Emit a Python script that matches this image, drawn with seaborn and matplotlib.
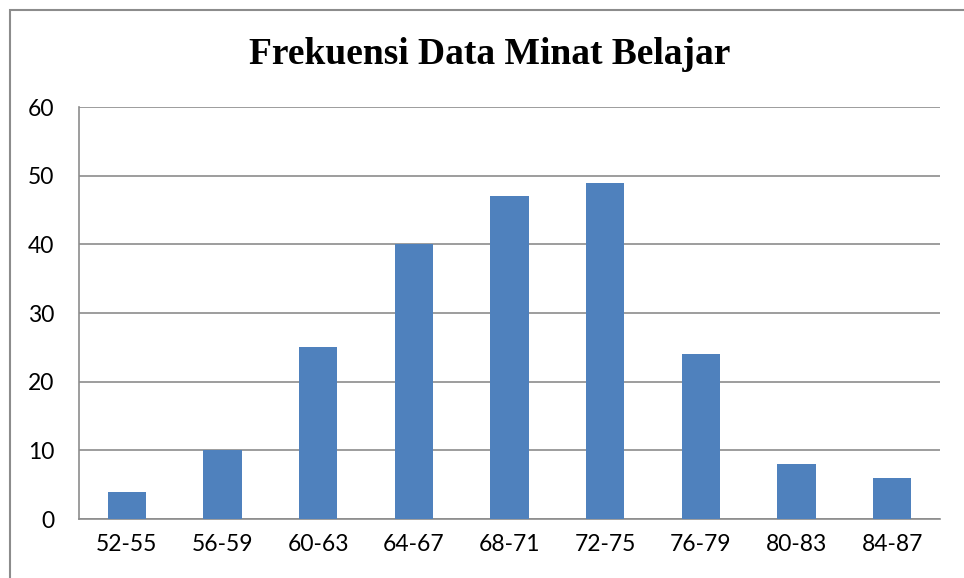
import matplotlib
matplotlib.use("Agg")
import matplotlib.pyplot as plt
import seaborn as sns
import pandas as pd
from matplotlib.patches import Rectangle

# data
kelas = ["52-55", "56-59", "60-63", "64-67", "68-71", "72-75", "76-79", "80-83", "84-87"]
frekuensi = [4, 10, 25, 40, 47, 49, 24, 8, 6]
y_ticks = [0, 10, 20, 30, 40, 50, 60]

df = pd.DataFrame({"kelas": kelas, "frekuensi": frekuensi})

sns.set_style("white")
plt.rcParams["font.family"] = ["Lato", "DejaVu Sans"]
plt.rcParams["text.color"] = "black"
plt.rcParams["xtick.color"] = "black"
plt.rcParams["ytick.color"] = "black"

fig = plt.figure(figsize=(9.64, 5.78), dpi=100)
ax = fig.add_axes([79 / 964, 1 - 519 / 578, (940 - 79) / 964, (519 - 107) / 578])

sns.barplot(data=df, x="kelas", y="frekuensi", color="#4F81BD", saturation=1,
            width=0.4, ax=ax, zorder=3, edgecolor="#4F81BD", linewidth=0)

ax.set_ylim(0, 60)
ax.set_yticks(y_ticks)
ax.set_xlim(-0.5, len(kelas) - 0.5)
ax.yaxis.grid(True, color="#8c8c8c", linewidth=1.2, zorder=0)
ax.set_axisbelow(True)
ax.set_xlabel("")
ax.set_ylabel("")
ax.tick_params(axis="y", length=0, pad=18, labelsize=16.5, labelcolor="black")
ax.tick_params(axis="x", length=0, pad=11, labelsize=16.5, labelcolor="black")
for s in ["top", "right"]:
    ax.spines[s].set_visible(False)
for s in ["left", "bottom"]:
    ax.spines[s].set_color("#8c8c8c")
    ax.spines[s].set_linewidth(1.2)

fig.text(490 / 964, 1 - 55 / 578, "Frekuensi Data Minat Belajar", ha="center", va="center",
         fontsize=27, fontweight="bold", color="black",
         family=["Liberation Serif", "DejaVu Serif"])

# outer chart frame
fig.patches.append(Rectangle((10 / 964, -0.1), 1.2, 1.1 - 10 / 578, transform=fig.transFigure,
                             fill=False, edgecolor="#8c8c8c", linewidth=1.5))

fig.savefig("out.png", dpi=100)
